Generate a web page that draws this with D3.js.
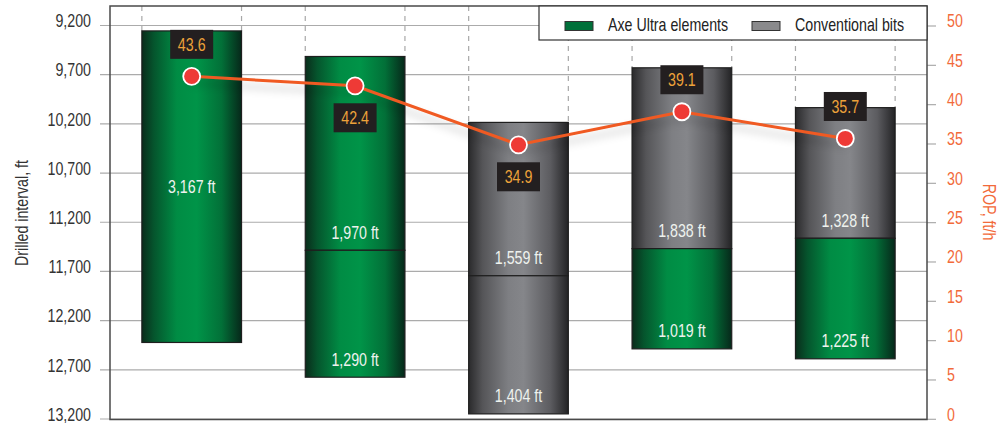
<!DOCTYPE html>
<html>
<head>
<meta charset="utf-8">
<script src="https://cdn.jsdelivr.net/npm/d3@7"></script>
<style>
  body { margin: 0; background: #fff; }
  .chart { font-family: "Liberation Sans", Arial, sans-serif; font-size: 18px; }
</style>
</head>
<body>
<svg class="chart" width="1006" height="423"></svg>
<script>
// runs (no labels shown on the x axis)
const runs = ["Run 1", "Run 2", "Run 3", "Run 4", "Run 5"];
// depth where each run starts, ft
const startDepth = [9255, 9515, 10185, 9630, 10035];
// drilled intervals per run, top to bottom: [length ft, bit type]
const intervals = [
  [[3167, "axe"]],
  [[1970, "axe"], [1290, "axe"]],
  [[1559, "conv"], [1404, "conv"]],
  [[1838, "conv"], [1019, "axe"]],
  [[1328, "conv"], [1225, "axe"]]
];
// rate of penetration, ft/h
const rop = [43.6, 42.4, 34.9, 39.1, 35.7];
// label box above (-1) or below (+1) the point
const ropLabelSide = [-1, 1, 1, -1, -1];
const depthTicks = [9200, 9700, 10200, 10700, 11200, 11700, 12200, 12700, 13200];
const ropTicks = [0, 5, 10, 15, 20, 25, 30, 35, 40, 45, 50];
const legendItems = [["axe", "Axe Ultra elements"], ["conv", "Conventional bits"]];

const width = 1006, height = 423;
const margin = {top: 6, right: 79, bottom: 4, left: 110};
const svg = d3.select(".chart");

// no narrow font installed, so squeeze the sans glyphs
const sq = "scale(0.79,1)";

const x = d3.scaleBand()
  .domain(runs)
  .range([margin.left, width - margin.right])
  .paddingInner(0.39)
  .paddingOuter(0.195);

const y = d3.scaleLinear()
  .domain([9200, 13200])
  .range([25.5, 419]);

const yRop = d3.scaleLinear()
  .domain([0, 50])
  .range([419.3, 26]);

const defs = svg.append("defs");

// cylinder shading for the bars
function addGradient(id, stops) {
  const g = defs.append("linearGradient")
    .attr("id", id)
    .attr("x1", "0%").attr("y1", "0%")
    .attr("x2", "100%").attr("y2", "0%");
  stops.forEach(s => g.append("stop").attr("offset", s[0]).attr("stop-color", s[1]));
}
addGradient("grad-axe", [["0%", "#0a2c1b"], ["12%", "#05552d"], ["35%", "#008c44"], ["55%", "#009448"], ["80%", "#027038"], ["100%", "#06281a"]]);
addGradient("grad-conv", [["0%", "#2a2a2c"], ["14%", "#555558"], ["40%", "#7e7f83"], ["55%", "#85868a"], ["82%", "#5c5c60"], ["100%", "#232325"]]);

const shadow = defs.append("filter")
  .attr("id", "lineShadow")
  .attr("x", "-10%").attr("y", "-50%")
  .attr("width", "120%").attr("height", "200%");
shadow.append("feDropShadow")
  .attr("dx", 0).attr("dy", 7)
  .attr("stdDeviation", 4)
  .attr("flood-color", "#000")
  .attr("flood-opacity", 0.22);

const colors = {axe: "url(#grad-axe)", conv: "url(#grad-conv)"};
const swatch = {axe: "#00703a", conv: "#8a8a8c"};

// horizontal gridlines from the depth axis
svg.append("g")
  .selectAll("line")
  .data(depthTicks)
  .join("line")
  .attr("x1", margin.left - 10)
  .attr("x2", width - margin.right)
  .attr("y1", d => y(d))
  .attr("y2", d => y(d))
  .attr("stroke", "#ababab")
  .attr("stroke-width", 1.2);

// depth labels
svg.append("g")
  .selectAll("text")
  .data(depthTicks)
  .join("text")
  .attr("transform", d => `translate(${margin.left - 19},${y(d) - 4.5}) ${sq}`)
  .attr("dy", "0.35em")
  .attr("text-anchor", "end")
  .attr("fill", "#333")
  .text(d => d3.format(",")(d));

// rop ticks on the right
const ropAxis = svg.append("g");
ropAxis.selectAll("line")
  .data(ropTicks)
  .join("line")
  .attr("x1", width - margin.right)
  .attr("x2", width - margin.right + 9)
  .attr("y1", d => yRop(d))
  .attr("y2", d => yRop(d))
  .attr("stroke", "#ababab")
  .attr("stroke-width", 1.2);
ropAxis.selectAll("text")
  .data(ropTicks)
  .join("text")
  .attr("transform", d => `translate(${width - margin.right + 20},${yRop(d) - 5}) ${sq}`)
  .attr("dy", "0.35em")
  .attr("fill", "#f26a3a")
  .text(d => d);

// axis titles
svg.append("text")
  .attr("transform", `translate(28,213) rotate(-90) ${sq}`)
  .attr("text-anchor", "middle")
  .attr("fill", "#333")
  .text("Drilled interval, ft");

svg.append("text")
  .attr("transform", `translate(983,212) rotate(90) ${sq}`)
  .attr("text-anchor", "middle")
  .attr("fill", "#f26a3a")
  .text("ROP, ft/h");

// dashed guides from the top of the frame down to each bar
const guides = svg.append("g");
runs.forEach((r, i) => {
  [x(r), x(r) + x.bandwidth()].forEach(xx => {
    guides.append("line")
      .attr("x1", xx).attr("x2", xx)
      .attr("y1", margin.top)
      .attr("y2", y(startDepth[i]))
      .attr("stroke", "#a8a8a8")
      .attr("stroke-width", 1.2)
      .attr("stroke-dasharray", "5,5");
  });
});

// stacked interval bars
const bars = svg.append("g");
runs.forEach((r, i) => {
  let top = startDepth[i];
  const single = intervals[i].length === 1;
  intervals[i].forEach(([len, type]) => {
    const y0 = y(top), y1 = y(top + len);
    bars.append("rect")
      .attr("x", x(r))
      .attr("y", y0)
      .attr("width", x.bandwidth())
      .attr("height", y1 - y0)
      .attr("fill", colors[type])
      .attr("stroke", "#1e1e1e")
      .attr("stroke-width", 1.2);
    bars.append("text")
      .attr("transform", `translate(${x(r) + x.bandwidth() / 2},${single ? (y0 + y1) / 2 : y1 - 18}) ${sq}`)
      .attr("dy", "0.35em")
      .attr("text-anchor", "middle")
      .attr("fill", "#eef2ee")
      .text(d3.format(",")(len) + " ft");
    top += len;
  });
});

// frame
svg.append("rect")
  .attr("x", margin.left)
  .attr("y", margin.top)
  .attr("width", width - margin.right - margin.left)
  .attr("height", 419.5 - margin.top)
  .attr("fill", "none")
  .attr("stroke", "#4a4a4a")
  .attr("stroke-width", 1.5);

// rop line
const line = d3.line()
  .x((d, i) => x(runs[i]) + x.bandwidth() / 2)
  .y(d => yRop(d));

svg.append("path")
  .datum(rop)
  .attr("fill", "none")
  .attr("stroke", "#f05a24")
  .attr("stroke-width", 3)
  .attr("filter", "url(#lineShadow)")
  .attr("d", line);

svg.append("g")
  .selectAll("circle")
  .data(rop)
  .join("circle")
  .attr("cx", (d, i) => x(runs[i]) + x.bandwidth() / 2)
  .attr("cy", d => yRop(d))
  .attr("r", 8.5)
  .attr("fill", "#ee3a36")
  .attr("stroke", "#fff")
  .attr("stroke-width", 1.8);

// value boxes
const boxW = 43, boxH = 29;
const labels = svg.append("g")
  .selectAll("g")
  .data(rop)
  .join("g")
  .attr("transform", (d, i) => `translate(${x(runs[i]) + x.bandwidth() / 2},${yRop(d) + ropLabelSide[i] * 32})`);
labels.append("rect")
  .attr("x", -boxW / 2)
  .attr("y", -boxH / 2)
  .attr("width", boxW)
  .attr("height", boxH)
  .attr("fill", "#231f20");
labels.append("text")
  .attr("transform", sq)
  .attr("text-anchor", "middle")
  .attr("dy", "0.36em")
  .attr("fill", "#eda23a")
  .text(d => d3.format(".1f")(d));

// legend
const legend = svg.append("g");
legend.append("rect")
  .attr("x", 539)
  .attr("y", margin.top)
  .attr("width", width - margin.right - 539)
  .attr("height", 34)
  .attr("fill", "#fff")
  .attr("stroke", "#333")
  .attr("stroke-width", 1.2);
const legendX = [565, 752];
legendItems.forEach(([type, label], i) => {
  legend.append("rect")
    .attr("x", legendX[i])
    .attr("y", 21.5)
    .attr("width", 28)
    .attr("height", 9)
    .attr("fill", swatch[type])
    .attr("stroke", "#333")
    .attr("stroke-width", 1);
  legend.append("text")
    .attr("transform", `translate(${legendX[i] + 43},25) ${sq}`)
    .attr("dy", "0.35em")
    .attr("fill", "#222")
    .text(label);
});
</script>
</body>
</html>
